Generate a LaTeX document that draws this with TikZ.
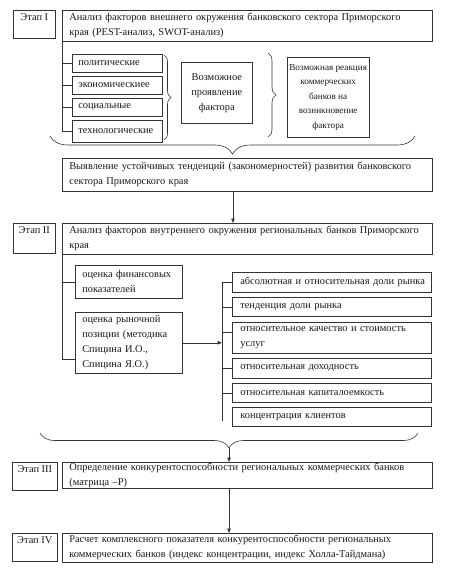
\documentclass[tikz,border=0pt]{standalone}
\usepackage{fontspec}
\setmainfont{Liberation Serif}
\usetikzlibrary{arrows.meta,decorations.pathreplacing}
\newcommand\oneline[1]{\mbox{#1}}
\begin{document}
\begin{tikzpicture}[x=1pt,y=-1pt,
  every node/.style={font=\fontsize{10.4}{15}\selectfont, text=black!90},
  box/.style={draw=black!80, line width=0.6pt, anchor=north west, inner xsep=7pt, inner ysep=0pt, align=left},
  cbox/.style={draw=black!80, line width=0.6pt, anchor=north west, inner xsep=2pt, inner ysep=0pt, align=center},
  stage/.style={draw=black!80, line width=0.6pt, anchor=north west, inner xsep=0pt, inner ysep=3pt, text height=7pt, text depth=15pt},
  ln/.style={draw=black!80, line width=0.6pt},
  arr/.style={ln, -{Triangle[length=4.5pt,width=3.5pt]}},
  brc/.style={ln, decorate, decoration={brace, amplitude=#1}},
]
\useasboundingbox (0,0) rectangle (454,570);

% ---------- Stage I ----------
\node[stage, minimum width=42pt] (s1) at (13,10) {Этап I};
\node[box, text width=356pt, minimum height=31pt] (m1) at (62,10)
  {\oneline{Анализ факторов внешнего окружения банковского сектора Приморского}\\края (PEST-анализ, SWOT-анализ)};

\node[box, inner xsep=6pt, text width=78pt, minimum height=18pt] (b1) at (72,54) {политические};
\node[box, inner xsep=6pt, text width=78pt, minimum height=18pt] (b2) at (72,76) {экономическиее};
\node[box, inner xsep=6pt, text width=78pt, minimum height=18pt] (b3) at (72,98) {социальные};
\node[box, inner xsep=6pt, text width=78pt, minimum height=22pt] (b4) at (72,120) {\oneline{технологические}};

\draw[ln] (m1.south west) |- (b4.west);
\draw[ln] (b1.west) -- (b1.west -| m1.south west);
\draw[ln] (b2.west) -- (b2.west -| m1.south west);
\draw[ln] (b3.west) -- (b3.west -| m1.south west);

\node[cbox, text width=67pt, minimum height=61pt] (pf) at (181,62) {Возможное\\проявление\\фактора};
\node[cbox, minimum width=81pt, minimum height=80pt, font=\fontsize{9.2}{14.5}\selectfont] (rb) at (287,57) {Возможная реакция\\коммерческих\\банков на\\возникновение\\фактора};

\coordinate (br1a) at (164,55);
\coordinate (br1b) at (164,140);
\draw[brc=7pt] (br1a) -- (br1b);
\coordinate (br2a) at (268,53);
\coordinate (br2b) at (268,137);
\draw[brc=8pt] (br2a) -- (br2b);
\coordinate (br3a) at (415,136);
\coordinate (br3b) at (50,136);
\draw[brc=18pt] (br3a) -- (br3b);

\node[box, text width=356pt, minimum height=33pt] (vy) at (62,158)
  {\oneline{Выявление устойчивых тенденций (закономерностей) развития банковского}\\сектора Приморского края};

% ---------- Stage II ----------
\node[stage, minimum width=42pt, text depth=17pt] (s2) at (13,223) {Этап II};
\node[box, text width=356pt, minimum height=31pt] (m2) at (62,223)
  {\oneline{Анализ факторов внутреннего окружения региональных банков Приморского}\\края};
\coordinate (ax1) at (233,0);
\draw[arr] (vy.south -| ax1) -- (m2.north -| ax1);

\node[box, text width=93pt, minimum height=33pt] (fin) at (75,265) {\oneline{оценка финансовых}\\показателей};
\node[box, text width=93pt, minimum height=61pt] (rp) at (75,312) {оценка рыночной\\\oneline{позиции (методика}\\Спицина И.О.,\\Спицина Я.О.)};

\draw[ln] (m2.south west) |- ([yshift=14pt]rp.south west);
\draw[ln] (fin.west) -- (fin.west -| m2.south west);

\node[box, inner xsep=8pt, text width=183pt, minimum height=20pt] (r1) at (232,272) {\oneline{абсолютная и относительная доли рынка}};
\node[box, inner xsep=8pt, text width=183pt, minimum height=19pt] (r2) at (232,297) {тенденция доли рынка};
\node[box, inner xsep=8pt, text width=183pt, minimum height=31pt] (r3) at (232,322) {\oneline{относительное качество и стоимость}\\услуг};
\node[box, inner xsep=8pt, text width=183pt, minimum height=20pt] (r4) at (232,358) {относительная доходность};
\node[box, inner xsep=8pt, text width=183pt, minimum height=19pt] (r5) at (232,383) {относительная капиталоемкость};
\node[box, inner xsep=8pt, text width=183pt, minimum height=19pt] (r6) at (232,407) {концентрация клиентов};

\coordinate (rl) at (222,421);
\draw[ln] (r1.west) -| (rl);
\draw[ln] (r2.west) -- (r2.west -| rl);
\draw[ln] ([yshift=6pt]r3.west) -- ([yshift=6pt]r3.west -| rl);
\draw[ln] (r4.west) -- (r4.west -| rl);
\draw[ln] (r5.west) -- (r5.west -| rl);
\draw[arr] (rp.east) -- (rp.east -| rl);

\coordinate (br4a) at (418,433);
\coordinate (br4b) at (40,433);
\draw[brc=15pt] (br4a) -- (br4b);
\coordinate (br4t) at (229,448);

% ---------- Stage III ----------
\node[stage, minimum width=45pt] (s3) at (12,462) {Этап III};
\node[box, text width=356pt, minimum height=26pt] (m3) at (62,462)
  {\oneline{Определение конкурентоспособности региональных коммерческих банков}\\(матрица –Р)};
\draw[arr] (br4t) -- (m3.north -| br4t);

% ---------- Stage IV ----------
\node[stage, minimum width=45pt] (s4) at (12,533) {Этап IV};
\node[box, text width=356pt, minimum height=29pt] (m4) at (62,533)
  {\oneline{Расчет комплексного показателя конкурентоспособности региональных}\\\oneline{коммерческих банков (индекс концентрации, индекс Холла-Тайдмана)}};
\draw[arr] (m3.south -| br4t) -- (m4.north -| br4t);
\end{tikzpicture}
\end{document}
